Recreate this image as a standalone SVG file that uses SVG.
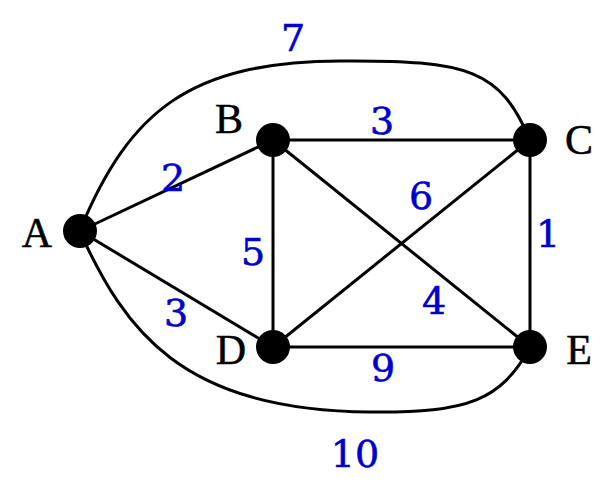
<svg xmlns="http://www.w3.org/2000/svg" width="606" height="494" viewBox="0 0 606 494">
<style>
.e{fill:none;stroke:#000;stroke-width:3}
.n{fill:#000}
.l{font-family:"Liberation Serif",serif;font-size:42px;fill:#000;stroke:#000;stroke-width:0.5;text-anchor:middle}
.w{font-family:"DejaVu Serif",serif;font-size:38px;fill:#0000cc;stroke:#0000cc;stroke-width:0.6;text-anchor:middle}
</style>
<rect width="606" height="494" fill="#fff"/>
<g id="edges">
<path class="e" d="M80,230 C130,110 190,62 340,61 C470,60 500,70 530,140"/>
<path class="e" d="M80,232 C125,330 180,410 370,412 C470,413 500,400 530,348"/>
<line class="e" x1="80" y1="231" x2="273" y2="140"/>
<line class="e" x1="80" y1="231" x2="273" y2="347"/>
<line class="e" x1="273" y1="140" x2="530" y2="140"/>
<line class="e" x1="273" y1="140" x2="273" y2="347"/>
<line class="e" x1="273" y1="140" x2="530" y2="347"/>
<line class="e" x1="273" y1="347" x2="530" y2="140"/>
<line class="e" x1="273" y1="347" x2="530" y2="347"/>
<line class="e" x1="530" y1="140" x2="530" y2="347"/>
</g>
<g id="weights">
<text class="w" x="293" y="51">7</text>
<text class="w" x="382" y="134">3</text>
<text class="w" x="173" y="191">2</text>
<text class="w" x="421" y="209">6</text>
<text class="w" x="548" y="247">1</text>
<text class="w" x="253" y="265">5</text>
<text class="w" x="176" y="326">3</text>
<text class="w" x="434" y="314">4</text>
<text class="w" x="383" y="381">9</text>
<text class="w" x="355" y="467">10</text>
</g>
<g id="A"><circle class="n" cx="80" cy="231" r="17"/><text class="l" x="37" y="247">A</text></g>
<g id="B"><circle class="n" cx="273" cy="140" r="17"/><text class="l" x="229" y="133">B</text></g>
<g id="C"><circle class="n" cx="530" cy="140" r="17"/><text class="l" x="579" y="154">C</text></g>
<g id="D"><circle class="n" cx="273" cy="347" r="17"/><text class="l" x="231" y="364">D</text></g>
<g id="E"><circle class="n" cx="530" cy="347" r="17"/><text class="l" x="579" y="364">E</text></g>
</svg>
